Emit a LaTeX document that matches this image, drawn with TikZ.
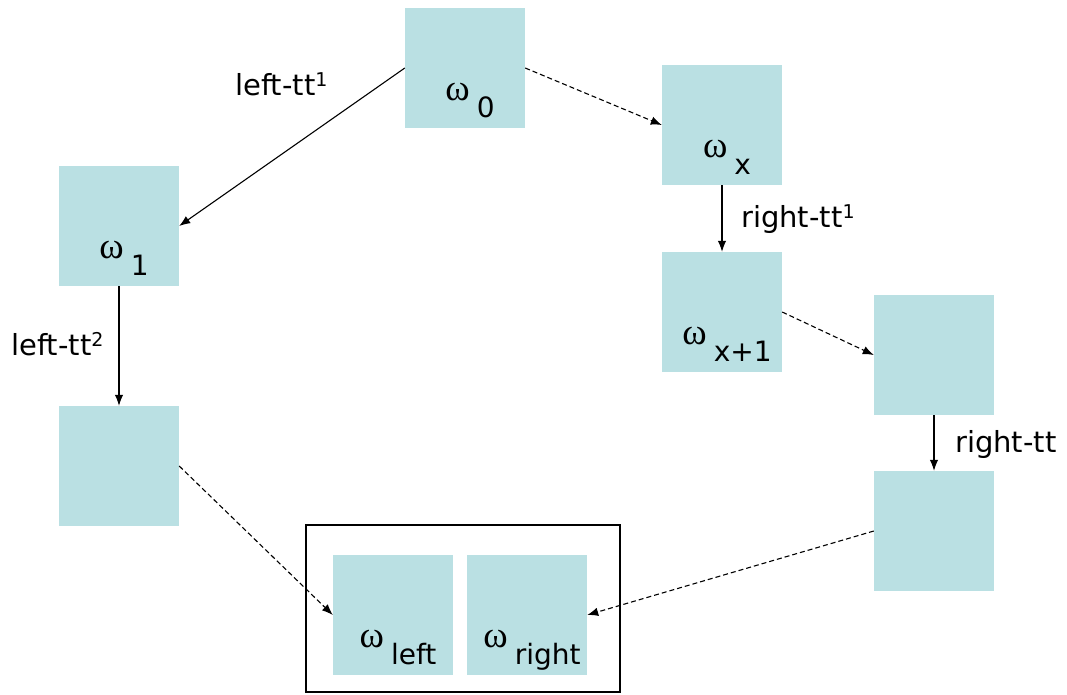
\documentclass[tikz,border=0pt]{standalone}
\usepackage{fontspec}
\setmainfont{DejaVu Sans}
\newfontfamily\omegafont{Liberation Serif}
\usetikzlibrary{arrows.meta}
\definecolor{cellfill}{RGB}{186,224,227}
\newcommand{\lblsize}{\fontsize{29}{34}\selectfont}
\newcommand{\subsize}{\fontsize{28}{32}\selectfont}
\newcommand{\supnum}[1]{\raisebox{9pt}{\fontsize{19}{20}\selectfont #1}}
\newcommand{\wlabel}[1]{{\omegafont\fontsize{37}{40}\selectfont ω}\hspace{7pt}\raisebox{-17pt}{\subsize #1}}
\begin{document}
\begin{tikzpicture}[x=1pt,y=-1pt,
  cell/.style={rectangle,fill=cellfill,draw=none,minimum width=120pt,minimum height=120pt,inner sep=0pt},
  wtext/.style={anchor=base,inner sep=0pt},
  edgelabel/.style={anchor=base west,inner sep=0pt,font=\lblsize},
  solidarrow/.style={line width=1.1pt,-{Latex[length=11pt,width=8.5pt]}},
  dasharrow/.style={line width=1.1pt,dash pattern=on 5pt off 3pt,-{Latex[length=11pt,width=8.5pt]}},
  framebox/.style={rectangle,draw=black,line width=1.5pt,minimum width=314pt,minimum height=167pt,inner sep=0pt}
]
\useasboundingbox (0,0) rectangle (1067,694);
\node[framebox] (frame) at (463,608.5) {};
\node[cell] (w0) at (465,68) {};
\node[cell] (wx) at (722,125) {};
\node[cell] (w1) at (119,226) {};
\node[cell] (wx1) at (722,312) {};
\node[cell] (r1) at (934,355) {};
\node[cell] (l2) at (119,466) {};
\node[cell] (r2) at (934,531) {};
\node[cell] (wl) at (393,615) {};
\node[cell] (wr) at (527,615) {};
% omega labels
\node[wtext] (t0) at (470,100) {\wlabel{0}};
\node[wtext] (tx) at (727,157) {\wlabel{x}};
\node[wtext] (t1) at (124,258) {\wlabel{1}};
\node[wtext] (tx1) at (727,344) {\wlabel{x+1}};
\node[wtext] (tl) at (398,647) {\wlabel{left}};
\node[wtext] (tr) at (532,647) {\wlabel{right}};
% edge labels
\node[edgelabel] (lt1) at (235,95) {left-tt\supnum{1}};
\node[edgelabel] (lt2) at (11,355) {left-tt\supnum{2}};
\node[edgelabel] (rt1) at (741,227) {right-tt\supnum{1}};
\node[edgelabel] (rt) at (955,452) {right-tt};
% connectors
\draw[solidarrow] (w0.west) -- (w1.east);
\draw[dasharrow] (w0.east) -- (wx.west);
\draw[solidarrow] (wx.south) -- (wx1.north);
\draw[dasharrow] (wx1.east) -- (r1.west);
\draw[solidarrow] (r1.south) -- (r2.north);
\draw[solidarrow] (w1.south) -- (l2.north);
\draw[dasharrow] (l2.east) -- (wl.west);
\draw[dasharrow] (r2.west) -- (wr.east);
\end{tikzpicture}
\end{document}
